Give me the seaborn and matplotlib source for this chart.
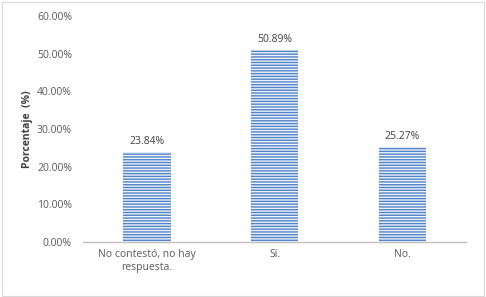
import numpy as np
import pandas as pd
import seaborn as sns
import matplotlib.pyplot as plt
from matplotlib.patches import Rectangle

# datos
categorias = ["No contestó, no hay\nrespuesta.", "Sí.", "No."]
porcentajes = [23.84, 50.89, 25.27]
ticks_y = [0, 10, 20, 30, 40, 50, 60]

df = pd.DataFrame({"categoria": categorias, "porcentaje": porcentajes})

sns.set_style("white")
plt.rcParams['font.family'] = ['Open Sans', 'DejaVu Sans']
plt.rcParams['hatch.linewidth'] = 1.0

fig = plt.figure(figsize=(4.86, 2.97), dpi=100)
ax = fig.add_axes([0.171, 0.185, 0.788, 0.761])

sns.barplot(data=df, x="categoria", y="porcentaje", ax=ax, width=0.37,
            color="white")
for barra in ax.patches:
    barra.set_facecolor("#eef3fa")
    barra.set_edgecolor("#5083c8")
    barra.set_hatch("------")
    barra.set_linewidth(0)

for barra, v in zip(ax.patches, porcentajes):
    ax.text(barra.get_x() + barra.get_width() / 2, v + 1.3, f"{v:.2f}%",
            ha="center", va="bottom", fontsize=7.5, color="#404040")

ax.set_ylim(0, 60)
ax.set_yticks(ticks_y)
ax.set_yticklabels([f"{t:.2f}%" for t in ticks_y], fontsize=7.5, color="#595959")
ax.tick_params(axis="x", labelsize=7.5, labelcolor="#595959", length=0, pad=5)
for etiqueta in ax.get_xticklabels():
    etiqueta.set_multialignment("center")
ax.tick_params(axis="y", length=0, pad=8)
ax.set_xlabel("")
ax.set_ylabel("Porcentaje  (%)", fontsize=7.5, fontweight="bold", color="#404040", labelpad=3)

for lado in ["top", "right", "left"]:
    ax.spines[lado].set_visible(False)
ax.spines["bottom"].set_color("#bfbfbf")
ax.spines["bottom"].set_linewidth(1)

# borde exterior
fig.patches.append(Rectangle((0.004, 0.004), 0.992, 0.99, transform=fig.transFigure,
                             fill=False, edgecolor="#d9d9d9", linewidth=0.8))

fig.savefig("out.png", dpi=100)
